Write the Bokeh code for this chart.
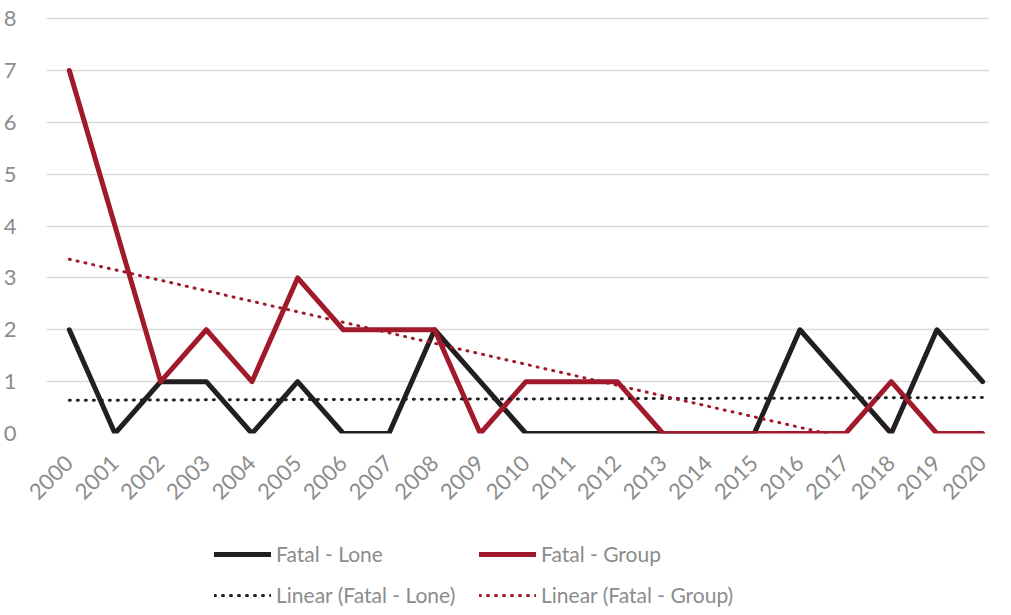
import numpy as np
from bokeh.plotting import figure
from bokeh.layouts import column
from bokeh.models import FixedTicker, Legend, LegendItem
from bokeh.embed import file_html
from bokeh.resources import INLINE
from math import pi

years = list(range(2000, 2021))
year_labels = [str(y) for y in years]
fatal_lone = [2, 0, 1, 1, 0, 1, 0, 0, 2, 1, 0, 0, 0, 0, 0, 0, 2, 1, 0, 2, 1]
fatal_group = [7, 4, 1, 2, 1, 3, 2, 2, 2, 0, 1, 1, 1, 0, 0, 0, 0, 0, 1, 0, 0]
y_ticks = [0, 1, 2, 3, 4, 5, 6, 7, 8]
series_names = ["Fatal - Lone", "Fatal - Group", "Linear (Fatal - Lone)", "Linear (Fatal - Group)"]

BLACK = "#231f20"
RED = "#a11a2c"
TEXT = "#8c8c8c"
GRID = "#d9d9d9"
FONT = "Lato"
SOLID = dict(line_width=5, line_join="round", line_cap="round")
DOT = dict(line_width=3, line_dash="1 7", line_cap="round")

p = figure(width=995, height=513, x_range=(1999.5, 2020.152), y_range=(0, 8.04),
           output_backend="svg", toolbar_location=None,
           min_border_left=39, min_border_right=6, min_border_top=16, min_border_bottom=80)
p.outline_line_color = None

x = np.array(years, dtype=float)
def trend(vals):
    k, b = np.polyfit(x, np.array(vals, dtype=float), 1)
    xs = [x[0], x[-1]]
    ys = [k * x[0] + b, k * x[-1] + b]
    if ys[1] < 0:
        xs = [x[0], -b / k]
        ys = [k * x[0] + b, 0.0]
    return xs, ys

t_lone = trend(fatal_lone)
t_group = trend(fatal_group)
p.line(years, fatal_lone, line_color=BLACK, **SOLID)
p.line(years, fatal_group, line_color=RED, **SOLID)
p.line(t_lone[0], t_lone[1], line_color=BLACK, **DOT)
p.line(t_group[0], t_group[1], line_color=RED, **DOT)

p.xgrid.grid_line_color = None
p.ygrid.grid_line_color = GRID
p.ygrid.grid_line_width = 1.5

p.yaxis.ticker = FixedTicker(ticks=y_ticks)
p.yaxis.axis_line_color = None
p.yaxis.major_tick_line_color = None
p.yaxis.minor_tick_line_color = None
p.yaxis.major_label_standoff = 24
p.yaxis.major_label_text_color = TEXT
p.yaxis.major_label_text_font = FONT
p.yaxis.major_label_text_font_size = "22px"

p.xaxis.ticker = FixedTicker(ticks=years)
p.xaxis.major_label_overrides = {y: l for y, l in zip(years, year_labels)}
p.xaxis.axis_line_color = None
p.xaxis.major_tick_line_color = None
p.xaxis.minor_tick_line_color = None
p.xaxis.major_label_orientation = pi / 4
p.xaxis.major_label_standoff = 20
p.xaxis.major_label_text_color = TEXT
p.xaxis.major_label_text_font = FONT
p.xaxis.major_label_text_font_size = "22px"

# legend figure (its lines are the same series, kept outside its visible range)
lp = figure(width=995, height=94, x_range=(0, 1), y_range=(0, 1),
            output_backend="svg", toolbar_location=None,
            min_border_left=39, min_border_right=0, min_border_top=0, min_border_bottom=0)
lp.axis.visible = False
lp.grid.visible = False
lp.outline_line_color = None
sources = [(years, fatal_lone), (years, fatal_group), t_lone, t_group]
styles = [(BLACK, SOLID), (RED, SOLID), (BLACK, DOT), (RED, DOT)]
locs = [(168, 41), (433, 41), (168, 0), (433, 0)]
for name, (xs, ys), (c, st), loc in zip(series_names, sources, styles, locs):
    r = lp.line(list(xs), list(ys), line_color=c, **st)
    lg = Legend(items=[LegendItem(label=name, renderers=[r])], location=loc,
                padding=0, margin=0, spacing=0, glyph_width=57, glyph_height=20,
                label_height=20, label_standoff=5, border_line_color=None,
                background_fill_alpha=0, label_text_color=TEXT,
                label_text_font=FONT, label_text_font_size="21px")
    lp.add_layout(lg, "center")

layout = column(p, lp, spacing=0)
open("out.html", "w").write(file_html(layout, INLINE))
